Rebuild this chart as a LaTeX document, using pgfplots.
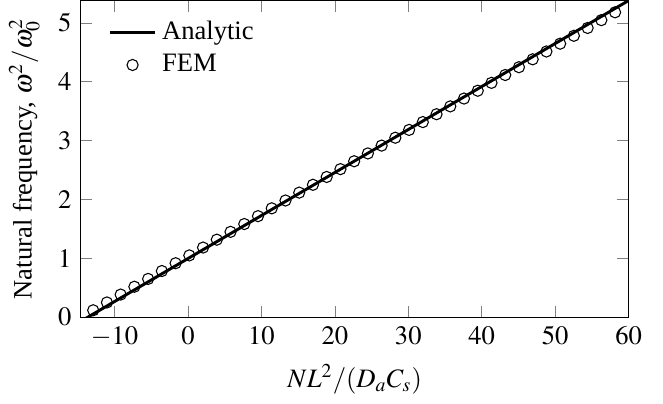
\documentclass[border=0pt]{standalone}
\usepackage{mathptmx}
\usepackage{fontspec}
\setmainfont{Liberation Serif}
\usepackage{pgfplots}
\pgfplotsset{compat=1.18}
\begin{document}
\begin{tikzpicture}
\begin{axis}[
  scale only axis,
  width=206pt, height=119pt,
  xmin=-14.6, xmax=60, ymin=0, ymax=5.38,
  xtick={-10,0,10,20,30,40,50,60},
  ytick={0,1,2,3,4,5},
  xlabel={$NL^2/(D_aC_s)$},
  ylabel={Natural frequency, $\omega^2/\omega_0^2$},
  legend style={draw=none, fill=none, at={(0.035,0.97)}, anchor=north west, font=\normalsize},
  legend cell align=left,
]
\addplot[black, line width=1.1pt] coordinates {(-14.6,-0.073) (60,5.38)};
\addlegendentry{Analytic}
\addplot[only marks, mark=o, mark size=2.1pt, black, thin] coordinates {
(-12.90,0.115) (-11.03,0.248) (-9.16,0.382) (-7.29,0.515) (-5.42,0.648)
(-3.55,0.782) (-1.68,0.915) (0.19,1.048) (2.06,1.181) (3.93,1.315)
(5.80,1.448) (7.67,1.581) (9.54,1.715) (11.41,1.848) (13.28,1.981)
(15.15,2.115) (17.02,2.248) (18.89,2.381) (20.76,2.514) (22.63,2.648)
(24.50,2.781) (26.37,2.914) (28.24,3.048) (30.11,3.181) (31.98,3.314)
(33.85,3.448) (35.72,3.581) (37.59,3.714) (39.46,3.847) (41.33,3.981)
(43.20,4.114) (45.07,4.247) (46.94,4.381) (48.81,4.514) (50.68,4.647)
(52.55,4.781) (54.42,4.914) (56.29,5.047) (58.16,5.180)};
\addlegendentry{FEM}
\end{axis}
\draw[draw=none] (current bounding box.south east) -- ++(4.6pt,0);
\end{tikzpicture}
\end{document}
